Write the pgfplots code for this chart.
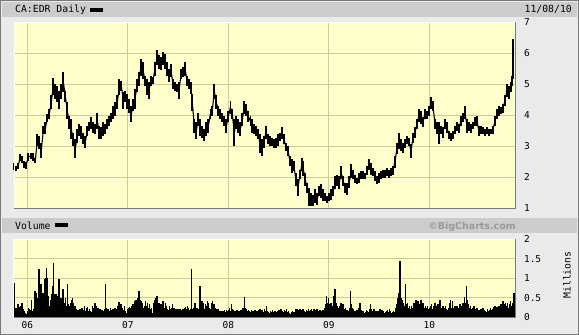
\documentclass[border=0pt]{standalone}
\usepackage{pgfplots}
\pgfplotsset{compat=1.18}
\usepackage{pgfplotstable}
\usepackage{fontspec}
\setmainfont{DejaVu Sans Mono}
\newfontfamily\bcsans{DejaVu Sans}
\definecolor{framebg}{HTML}{EAEAEA}
\definecolor{stripbg}{HTML}{CCCCCC}
\definecolor{plotbg}{HTML}{FFFFCC}
\definecolor{gridc}{HTML}{CCCC99}
\definecolor{edgec}{HTML}{7A7A7A}
\definecolor{bcgray}{HTML}{999999}

\pgfplotstableread{
t lo hi
2005.868 2.24 2.46
2005.888 2.19 2.35
2005.911 2.27 2.46
2005.928 2.51 2.73
2005.947 2.46 2.68
2005.967 2.30 2.51
2005.987 2.25 2.50
2006.010 2.51 2.78
2006.034 2.57 2.78
2006.060 2.51 2.78
2006.080 2.46 2.62
2006.100 3.00 3.38
2006.120 2.89 3.33
2006.140 2.62 3.11
2006.160 3.38 3.65
2006.180 3.38 3.76
2006.199 3.76 4.03
2006.219 3.87 4.19
2006.239 4.19 4.63
2006.259 4.63 5.19
2006.279 4.52 5.00
2006.299 4.41 4.95
2006.319 4.19 4.79
2006.339 4.52 5.00
2006.359 4.73 5.38
2006.379 4.41 4.79
2006.398 3.87 4.41
2006.418 3.54 3.97
2006.438 3.22 3.87
2006.458 3.00 3.43
2006.478 2.62 3.22
2006.498 3.11 3.54
2006.518 3.33 3.70
2006.538 3.22 3.65
2006.558 3.06 3.43
2006.578 2.95 3.33
2006.597 3.33 3.65
2006.617 3.49 3.76
2006.637 3.54 3.92
2006.657 3.43 3.76
2006.677 3.38 3.70
2006.697 3.54 4.08
2006.717 3.22 3.65
2006.737 3.22 3.60
2006.757 3.33 3.76
2006.777 3.38 3.70
2006.796 3.54 3.87
2006.816 3.65 3.97
2006.836 3.76 4.08
2006.856 3.87 4.30
2006.876 3.97 4.41
2006.896 4.19 4.63
2006.916 4.63 5.17
2006.936 4.79 5.11
2006.956 4.19 4.73
2006.976 4.41 4.79
2006.995 4.19 4.68
2007.015 4.08 4.52
2007.035 3.76 4.30
2007.055 4.14 4.52
2007.072 4.19 4.84
2007.092 4.73 5.17
2007.112 4.95 5.38
2007.132 5.27 5.81
2007.152 5.17 5.71
2007.172 4.95 5.27
2007.191 4.63 5.17
2007.211 4.52 5.06
2007.231 4.95 5.27
2007.251 5.00 5.22
2007.271 5.27 5.71
2007.291 5.60 6.09
2007.311 5.49 5.92
2007.331 5.44 5.87
2007.351 5.60 6.03
2007.371 5.49 5.98
2007.390 5.27 5.71
2007.410 5.06 5.49
2007.430 5.22 5.65
2007.450 4.84 5.17
2007.470 4.79 5.06
2007.490 4.73 5.00
2007.510 4.52 5.06
2007.530 5.17 5.49
2007.550 5.22 5.54
2007.570 5.27 5.71
2007.589 4.95 5.27
2007.609 4.84 5.17
2007.629 4.68 5.06
2007.642 4.14 4.68
2007.662 3.43 3.87
2007.682 3.22 3.76
2007.702 3.65 4.08
2007.722 3.33 3.87
2007.742 3.27 3.65
2007.762 3.16 3.54
2007.782 3.33 3.76
2007.802 3.43 3.87
2007.822 3.87 4.19
2007.841 3.97 4.30
2007.861 4.52 5.00
2007.881 4.19 4.63
2007.901 3.97 4.30
2007.921 3.87 4.19
2007.941 3.76 4.08
2007.961 3.65 3.97
2007.981 3.43 3.87
2008.001 3.76 4.14
2008.021 4.03 4.46
2008.040 3.87 4.19
2008.060 3.00 3.87
2008.080 3.54 3.97
2008.100 3.43 3.87
2008.120 3.33 3.76
2008.140 3.65 4.08
2008.160 4.03 4.46
2008.180 3.97 4.35
2008.200 3.76 4.14
2008.220 3.65 3.97
2008.239 3.43 3.87
2008.259 3.38 3.70
2008.279 3.33 3.65
2008.299 3.22 3.54
2008.315 2.78 3.38
2008.335 2.68 3.22
2008.355 2.95 3.33
2008.375 3.22 3.65
2008.395 3.06 3.38
2008.415 3.00 3.33
2008.434 3.00 3.27
2008.454 2.95 3.22
2008.474 2.95 3.27
2008.494 3.00 3.38
2008.514 3.16 3.43
2008.534 3.22 3.60
2008.554 3.06 3.38
2008.574 2.84 3.11
2008.594 2.68 3.00
2008.614 2.35 2.68
2008.633 2.14 2.57
2008.653 2.19 2.51
2008.673 1.70 2.14
2008.693 1.38 1.92
2008.713 1.92 2.24
2008.733 2.19 2.62
2008.746 2.03 2.51
2008.766 1.70 2.14
2008.786 1.49 1.81
2008.806 1.05 1.65
2008.826 1.05 1.49
2008.846 1.05 1.43
2008.866 1.16 1.60
2008.885 1.10 1.49
2008.905 1.38 1.70
2008.925 1.33 1.76
2008.945 1.22 1.60
2008.965 1.22 1.49
2008.985 1.16 1.38
2009.005 1.22 1.49
2009.025 1.27 1.60
2009.045 1.38 1.70
2009.065 1.60 2.03
2009.084 1.70 2.08
2009.104 1.60 2.03
2009.124 1.92 2.35
2009.144 1.70 2.03
2009.164 1.49 1.81
2009.184 1.43 1.81
2009.204 1.65 2.03
2009.224 1.97 2.41
2009.244 1.92 2.24
2009.264 1.81 2.08
2009.283 1.76 1.97
2009.303 1.81 2.14
2009.323 1.92 2.19
2009.343 1.92 2.19
2009.363 1.92 2.14
2009.383 2.08 2.35
2009.403 2.24 2.57
2009.423 2.08 2.46
2009.443 2.03 2.30
2009.463 1.87 2.19
2009.483 1.76 2.03
2009.502 1.81 2.14
2009.522 1.92 2.19
2009.542 1.97 2.24
2009.559 1.97 2.24
2009.579 2.03 2.30
2009.599 1.97 2.24
2009.619 2.03 2.30
2009.639 2.08 2.35
2009.659 2.30 2.68
2009.678 2.73 3.11
2009.698 2.89 3.43
2009.718 2.84 3.22
2009.738 2.78 3.11
2009.758 2.95 3.22
2009.778 3.06 3.33
2009.798 3.00 3.27
2009.818 2.62 3.06
2009.838 3.11 3.43
2009.858 3.27 3.60
2009.877 3.54 3.87
2009.897 3.76 4.19
2009.917 3.70 4.14
2009.937 3.60 3.92
2009.957 3.87 4.19
2009.977 3.87 4.14
2009.997 3.97 4.30
2010.017 4.19 4.57
2010.037 4.14 4.46
2010.057 3.54 3.87
2010.076 3.38 3.76
2010.096 3.06 3.76
2010.116 3.38 3.65
2010.136 3.27 3.60
2010.156 3.54 3.87
2010.176 3.43 3.76
2010.196 3.22 3.49
2010.216 3.16 3.43
2010.236 3.22 3.49
2010.256 3.38 3.65
2010.275 3.49 3.76
2010.295 3.43 3.70
2010.315 3.65 3.97
2010.335 3.76 4.08
2010.355 3.87 4.30
2010.375 3.43 3.87
2010.395 3.49 3.76
2010.415 3.43 3.70
2010.435 3.54 3.76
2010.455 3.65 3.92
2010.474 3.65 3.97
2010.494 3.33 3.65
2010.514 3.38 3.65
2010.534 3.38 3.60
2010.554 3.33 3.54
2010.574 3.38 3.60
2010.594 3.33 3.54
2010.614 3.38 3.54
2010.634 3.38 3.65
2010.654 3.65 3.97
2010.673 3.87 4.19
2010.693 3.97 4.30
2010.713 4.03 4.25
2010.733 4.08 4.35
2010.753 4.30 4.63
2010.773 4.57 5.00
2010.793 4.52 4.95
2010.813 4.73 5.06
2010.826 4.95 5.27
2010.836 5.17 6.46
}\pricedata

\pgfplotstableread[row sep=\\]{
t v\\
2005.868 0.88\\ 2005.878 0.20\\ 2005.888 0.24\\ 2005.898 0.21\\ 2005.908 0.33\\ 2005.918 0.20\\ 2005.928 0.27\\ 2005.938 0.28\\ 2005.948 0.37\\ 2005.958 0.20\\
2005.968 0.15\\ 2005.978 0.11\\ 2005.988 0.07\\ 2005.998 0.15\\ 2006.008 0.24\\ 2006.018 0.21\\ 2006.028 0.18\\ 2006.038 0.45\\ 2006.048 0.15\\ 2006.058 0.18\\
2006.067 0.21\\ 2006.077 0.67\\ 2006.087 0.63\\ 2006.097 0.50\\ 2006.107 0.37\\ 2006.117 1.23\\ 2006.127 0.37\\ 2006.137 0.84\\ 2006.147 0.33\\ 2006.157 0.63\\
2006.167 0.97\\ 2006.177 1.01\\ 2006.187 1.25\\ 2006.197 1.01\\ 2006.207 0.54\\ 2006.217 0.28\\ 2006.227 0.45\\ 2006.237 0.58\\ 2006.247 0.80\\ 2006.257 1.40\\
2006.266 0.45\\ 2006.276 0.58\\ 2006.286 0.58\\ 2006.296 0.54\\ 2006.306 0.45\\ 2006.316 0.97\\ 2006.326 0.33\\ 2006.336 0.50\\ 2006.346 0.33\\ 2006.356 0.71\\
2006.366 0.37\\ 2006.376 0.50\\ 2006.386 0.28\\ 2006.396 0.84\\ 2006.406 0.33\\ 2006.416 0.28\\ 2006.426 0.37\\ 2006.436 0.45\\ 2006.446 0.50\\ 2006.456 0.37\\
2006.465 0.24\\ 2006.475 0.28\\ 2006.485 0.20\\ 2006.495 0.18\\ 2006.505 0.18\\ 2006.515 0.18\\ 2006.525 0.20\\ 2006.535 0.15\\ 2006.545 0.24\\ 2006.555 0.18\\
2006.565 0.28\\ 2006.575 0.15\\ 2006.585 0.24\\ 2006.595 0.27\\ 2006.605 0.15\\ 2006.615 0.20\\ 2006.625 0.15\\ 2006.635 0.13\\ 2006.645 0.28\\ 2006.655 0.24\\
2006.664 0.15\\ 2006.674 0.37\\ 2006.684 0.28\\ 2006.694 0.20\\ 2006.704 0.24\\ 2006.714 0.15\\ 2006.724 0.21\\ 2006.734 0.15\\ 2006.744 0.18\\ 2006.754 0.15\\
2006.764 0.20\\ 2006.774 0.84\\ 2006.784 0.24\\ 2006.794 0.21\\ 2006.804 0.20\\ 2006.814 0.15\\ 2006.824 0.24\\ 2006.834 0.18\\ 2006.844 0.20\\ 2006.854 0.15\\
2006.863 0.20\\ 2006.873 0.24\\ 2006.883 0.15\\ 2006.893 0.20\\ 2006.903 0.28\\ 2006.913 0.39\\ 2006.923 0.28\\ 2006.933 0.33\\ 2006.943 0.24\\ 2006.953 0.18\\
2006.963 0.28\\ 2006.973 0.15\\ 2006.983 0.11\\ 2006.993 0.20\\ 2007.003 0.24\\ 2007.013 0.27\\ 2007.023 0.24\\ 2007.033 0.28\\ 2007.043 0.33\\ 2007.053 0.24\\
2007.062 0.33\\ 2007.072 0.41\\ 2007.082 0.45\\ 2007.092 0.37\\ 2007.102 0.50\\ 2007.112 0.67\\ 2007.122 0.45\\ 2007.132 0.41\\ 2007.142 0.37\\ 2007.152 0.24\\
2007.162 0.28\\ 2007.172 0.41\\ 2007.182 0.28\\ 2007.192 0.37\\ 2007.202 0.24\\ 2007.212 0.33\\ 2007.222 0.20\\ 2007.232 0.24\\ 2007.242 0.11\\ 2007.252 0.37\\
2007.261 0.33\\ 2007.271 0.45\\ 2007.281 0.50\\ 2007.291 0.54\\ 2007.301 0.33\\ 2007.311 0.37\\ 2007.321 0.24\\ 2007.331 0.33\\ 2007.341 0.33\\ 2007.351 0.41\\
2007.361 0.24\\ 2007.371 0.37\\ 2007.381 0.28\\ 2007.391 0.21\\ 2007.401 0.18\\ 2007.411 0.28\\ 2007.421 0.20\\ 2007.431 0.24\\ 2007.441 0.33\\ 2007.451 0.20\\
2007.460 0.24\\ 2007.470 0.18\\ 2007.480 0.21\\ 2007.490 0.15\\ 2007.500 0.20\\ 2007.510 0.15\\ 2007.520 0.20\\ 2007.530 0.18\\ 2007.540 0.15\\ 2007.550 0.20\\
2007.560 0.24\\ 2007.570 0.27\\ 2007.580 0.21\\ 2007.590 0.28\\ 2007.600 0.24\\ 2007.610 0.18\\ 2007.620 0.21\\ 2007.630 1.23\\ 2007.640 0.20\\ 2007.650 0.21\\
2007.659 0.24\\ 2007.669 0.37\\ 2007.679 0.15\\ 2007.689 0.24\\ 2007.699 0.18\\ 2007.709 0.20\\ 2007.719 0.80\\ 2007.729 0.24\\ 2007.739 0.41\\ 2007.749 0.37\\
2007.759 0.20\\ 2007.769 0.33\\ 2007.779 0.28\\ 2007.789 0.41\\ 2007.799 0.37\\ 2007.809 0.24\\ 2007.819 0.20\\ 2007.829 0.37\\ 2007.839 0.41\\ 2007.849 0.28\\
2007.858 0.33\\ 2007.868 0.24\\ 2007.878 0.20\\ 2007.888 0.18\\ 2007.898 0.20\\ 2007.908 0.15\\ 2007.918 0.13\\ 2007.928 0.15\\ 2007.938 0.11\\ 2007.948 0.15\\
2007.958 0.18\\ 2007.968 0.13\\ 2007.978 0.18\\ 2007.988 0.15\\ 2007.998 0.18\\ 2008.008 0.24\\ 2008.018 0.15\\ 2008.028 0.33\\ 2008.038 0.21\\ 2008.048 0.18\\
2008.057 0.15\\ 2008.067 0.13\\ 2008.077 0.15\\ 2008.087 0.18\\ 2008.097 0.15\\ 2008.107 0.13\\ 2008.117 0.15\\ 2008.127 0.18\\ 2008.137 0.15\\ 2008.147 0.24\\
2008.157 0.52\\ 2008.167 0.24\\ 2008.177 0.20\\ 2008.187 0.15\\ 2008.197 0.18\\ 2008.207 0.15\\ 2008.217 0.13\\ 2008.227 0.18\\ 2008.237 0.15\\ 2008.247 0.11\\
2008.256 0.15\\ 2008.266 0.18\\ 2008.276 0.13\\ 2008.286 0.15\\ 2008.296 0.11\\ 2008.306 0.18\\ 2008.316 0.21\\ 2008.326 0.15\\ 2008.336 0.18\\ 2008.346 0.13\\
2008.356 0.20\\ 2008.366 0.15\\ 2008.376 0.28\\ 2008.386 0.15\\ 2008.396 0.13\\ 2008.406 0.11\\ 2008.416 0.15\\ 2008.426 0.13\\ 2008.436 0.18\\ 2008.446 0.11\\
2008.455 0.13\\ 2008.465 0.15\\ 2008.475 0.11\\ 2008.485 0.13\\ 2008.495 0.15\\ 2008.505 0.18\\ 2008.515 0.15\\ 2008.525 0.20\\ 2008.535 0.15\\ 2008.545 0.13\\
2008.555 0.18\\ 2008.565 0.15\\ 2008.575 0.20\\ 2008.585 0.13\\ 2008.595 0.15\\ 2008.605 0.11\\ 2008.615 0.09\\ 2008.625 0.13\\ 2008.635 0.15\\ 2008.645 0.11\\
2008.654 0.13\\ 2008.664 0.09\\ 2008.674 0.20\\ 2008.684 0.21\\ 2008.694 0.18\\ 2008.704 0.13\\ 2008.714 0.20\\ 2008.724 0.15\\ 2008.734 0.18\\ 2008.744 0.21\\
2008.754 0.15\\ 2008.764 0.13\\ 2008.774 0.18\\ 2008.784 0.15\\ 2008.794 0.20\\ 2008.804 0.15\\ 2008.814 0.18\\ 2008.824 0.21\\ 2008.834 0.15\\ 2008.844 0.20\\
2008.853 0.21\\ 2008.863 0.18\\ 2008.873 0.15\\ 2008.883 0.20\\ 2008.893 0.13\\ 2008.903 0.15\\ 2008.913 0.18\\ 2008.923 0.13\\ 2008.933 0.15\\ 2008.943 0.18\\
2008.953 0.24\\ 2008.963 0.33\\ 2008.973 0.54\\ 2008.983 0.37\\ 2008.993 0.50\\ 2009.003 0.33\\ 2009.013 0.37\\ 2009.023 0.37\\ 2009.033 0.28\\ 2009.043 0.54\\
2009.052 0.41\\ 2009.062 0.71\\ 2009.072 0.37\\ 2009.082 0.28\\ 2009.092 0.24\\ 2009.102 0.20\\ 2009.112 0.28\\ 2009.122 0.37\\ 2009.132 0.24\\ 2009.142 0.33\\
2009.152 0.20\\ 2009.162 0.24\\ 2009.172 0.18\\ 2009.182 0.18\\ 2009.192 0.15\\ 2009.202 0.24\\ 2009.212 0.67\\ 2009.222 0.33\\ 2009.232 0.24\\ 2009.242 0.20\\
2009.251 0.15\\ 2009.261 0.11\\ 2009.271 0.15\\ 2009.281 0.18\\ 2009.291 0.13\\ 2009.301 0.24\\ 2009.311 0.37\\ 2009.321 0.18\\ 2009.331 0.13\\ 2009.341 0.15\\
2009.351 0.11\\ 2009.361 0.13\\ 2009.371 0.18\\ 2009.381 0.15\\ 2009.391 0.13\\ 2009.401 0.20\\ 2009.411 0.33\\ 2009.421 0.21\\ 2009.431 0.15\\ 2009.441 0.18\\
2009.450 0.21\\ 2009.460 0.15\\ 2009.470 0.13\\ 2009.480 0.15\\ 2009.490 0.11\\ 2009.500 0.15\\ 2009.510 0.20\\ 2009.520 0.13\\ 2009.530 0.18\\ 2009.540 0.15\\
2009.550 0.11\\ 2009.560 0.13\\ 2009.570 0.15\\ 2009.580 0.18\\ 2009.590 0.13\\ 2009.600 0.20\\ 2009.610 0.15\\ 2009.620 0.11\\ 2009.630 0.13\\ 2009.640 0.15\\
2009.649 0.13\\ 2009.659 0.11\\ 2009.669 0.24\\ 2009.679 0.33\\ 2009.689 0.50\\ 2009.699 0.61\\ 2009.709 1.44\\ 2009.719 0.50\\ 2009.729 0.45\\ 2009.739 0.37\\
2009.749 0.28\\ 2009.759 0.84\\ 2009.769 0.33\\ 2009.779 0.37\\ 2009.789 0.24\\ 2009.799 0.28\\ 2009.809 0.20\\ 2009.819 0.28\\ 2009.829 0.24\\ 2009.839 0.33\\
2009.848 0.37\\ 2009.858 0.28\\ 2009.868 0.45\\ 2009.878 0.37\\ 2009.888 0.41\\ 2009.898 0.24\\ 2009.908 0.33\\ 2009.918 0.44\\ 2009.928 0.28\\ 2009.938 0.37\\
2009.948 0.24\\ 2009.958 0.28\\ 2009.968 0.24\\ 2009.978 0.28\\ 2009.988 0.20\\ 2009.998 0.24\\ 2010.008 0.28\\ 2010.018 0.33\\ 2010.028 0.21\\ 2010.038 0.28\\
2010.047 0.24\\ 2010.057 0.37\\ 2010.067 0.24\\ 2010.077 0.28\\ 2010.087 0.33\\ 2010.097 0.24\\ 2010.107 0.45\\ 2010.117 0.24\\ 2010.127 0.20\\ 2010.137 0.28\\
2010.147 0.24\\ 2010.157 0.28\\ 2010.167 0.21\\ 2010.177 0.18\\ 2010.187 0.24\\ 2010.197 0.37\\ 2010.207 0.45\\ 2010.217 0.24\\ 2010.227 0.41\\ 2010.237 0.24\\
2010.246 0.24\\ 2010.256 0.28\\ 2010.266 0.24\\ 2010.276 0.28\\ 2010.286 0.21\\ 2010.296 0.24\\ 2010.306 0.33\\ 2010.316 0.24\\ 2010.326 0.28\\ 2010.336 0.37\\
2010.346 0.52\\ 2010.356 0.37\\ 2010.366 0.80\\ 2010.376 0.45\\ 2010.386 0.33\\ 2010.396 0.24\\ 2010.406 0.28\\ 2010.416 0.20\\ 2010.426 0.24\\ 2010.436 0.18\\
2010.445 0.28\\ 2010.455 0.21\\ 2010.465 0.18\\ 2010.475 0.24\\ 2010.485 0.15\\ 2010.495 0.18\\ 2010.505 0.13\\ 2010.515 0.20\\ 2010.525 0.15\\ 2010.535 0.24\\
2010.545 0.18\\ 2010.555 0.15\\ 2010.565 0.13\\ 2010.575 0.20\\ 2010.585 0.15\\ 2010.595 0.18\\ 2010.605 0.24\\ 2010.615 0.18\\ 2010.625 0.21\\ 2010.635 0.27\\
2010.644 0.24\\ 2010.654 0.28\\ 2010.664 0.21\\ 2010.674 0.27\\ 2010.684 0.24\\ 2010.694 0.28\\ 2010.704 0.27\\ 2010.714 0.33\\ 2010.724 0.24\\ 2010.734 0.41\\
2010.744 0.33\\ 2010.754 0.37\\ 2010.764 0.28\\ 2010.774 0.37\\ 2010.784 0.24\\ 2010.794 0.33\\ 2010.804 0.41\\ 2010.814 0.28\\ 2010.824 0.37\\ 2010.834 0.45\\
2010.843 0.63\\ 2010.852 0.41\\
}\voldata

\begin{document}
\begin{tikzpicture}[x=1pt,y=1pt]
% frame
\fill[framebg] (0,0) rectangle (579,-335);
\draw[edgec, line width=1pt] (0.5,-0.5) rectangle (578.5,-334.5);
% title strip
\fill[stripbg] (2,-1.5) rectangle (577,-16.5);
\node[anchor=base west, inner sep=0pt, font=\fontsize{9.8}{10}\selectfont] at (15,-12.6) {CA:EDR Daily};
\fill[black] (90,-7.8) rectangle (102.7,-11.8);
\node[anchor=base east, inner sep=0pt, font=\fontsize{9.8}{10}\selectfont] at (572,-12.6) {11/08/10};
% volume strip
\fill[stripbg] (2,-218) rectangle (577,-233);
\node[anchor=base west, inner sep=0pt, font=\fontsize{9.8}{10}\selectfont] at (15,-229.2) {Volume};
\fill[black] (55,-223.3) rectangle (68,-227.3);
\node[anchor=base east, inner sep=0pt, text=bcgray, font=\bcsans\bfseries\fontsize{9.5}{10}\selectfont] at (516,-229.3) {©BigCharts.com};
% Millions
\node[rotate=90, inner sep=0pt, font=\fontsize{9.8}{10}\selectfont] at (567,-275) {Millions};

\begin{axis}[
  at={(14pt,-208pt)}, anchor=south west, scale only axis,
  width=501pt, height=186pt,
  xmin=2005.868, xmax=2010.853, ymin=1, ymax=7,
  axis background/.style={fill=plotbg},
  axis line style={draw=none},
  xtick={2006,2007,2008,2009,2010}, xticklabels={},
  ytick={1,2,3,4,5,6,7},
  yticklabel pos=right,
  major tick length=0pt,
  grid=major, major grid style={gridc, line width=0.9pt},
  yticklabel style={anchor=west, xshift=5.5pt, font=\fontsize{9.5}{10}\selectfont},
  /pgf/number format/assume math mode=true,
  clip=false]
\addplot[black, line width=1.1pt, error bars/.cd, y dir=both, y explicit, error mark=none,
  error bar style={line width=1.75pt, black}]
  table[x=t, y expr={(\thisrow{lo}+\thisrow{hi})/2}, y error expr={(\thisrow{hi}-\thisrow{lo})/2}] {\pricedata};
\draw[white, line width=1pt] (rel axis cs:0,0) -- (rel axis cs:0,1) -- (rel axis cs:1,1);
\draw[edgec, line width=1pt] (rel axis cs:0,0) -- (rel axis cs:1,0) -- (rel axis cs:1,1);
\end{axis}

\begin{axis}[
  at={(14pt,-317pt)}, anchor=south west, scale only axis,
  width=501pt, height=77.7pt,
  xmin=2005.868, xmax=2010.853, ymin=0, ymax=2,
  axis background/.style={fill=plotbg},
  axis line style={draw=none},
  xtick={2006,2007,2008,2009,2010}, xticklabels={06,07,08,09,10},
  ytick={0,0.5,1,1.5,2}, yticklabels={0,0.5,1,1.5,2},
  yticklabel pos=right,
  major tick length=0pt,
  grid=major, major grid style={gridc, line width=0.9pt},
  yticklabel style={anchor=west, xshift=5.5pt, font=\fontsize{9.5}{10}\selectfont},
  xticklabel style={anchor=base, yshift=-11pt, font=\fontsize{9.5}{10}\selectfont},
  /pgf/number format/assume math mode=true,
  clip=false]
\addplot[ycomb, black, line width=1.1pt] table[x=t, y=v] {\voldata};
\draw[white, line width=1pt] (rel axis cs:0,0) -- (rel axis cs:0,1) -- (rel axis cs:1,1);
\draw[edgec, line width=1pt] (rel axis cs:0,0) -- (rel axis cs:1,0) -- (rel axis cs:1,1);
\end{axis}
\end{tikzpicture}
\end{document}
